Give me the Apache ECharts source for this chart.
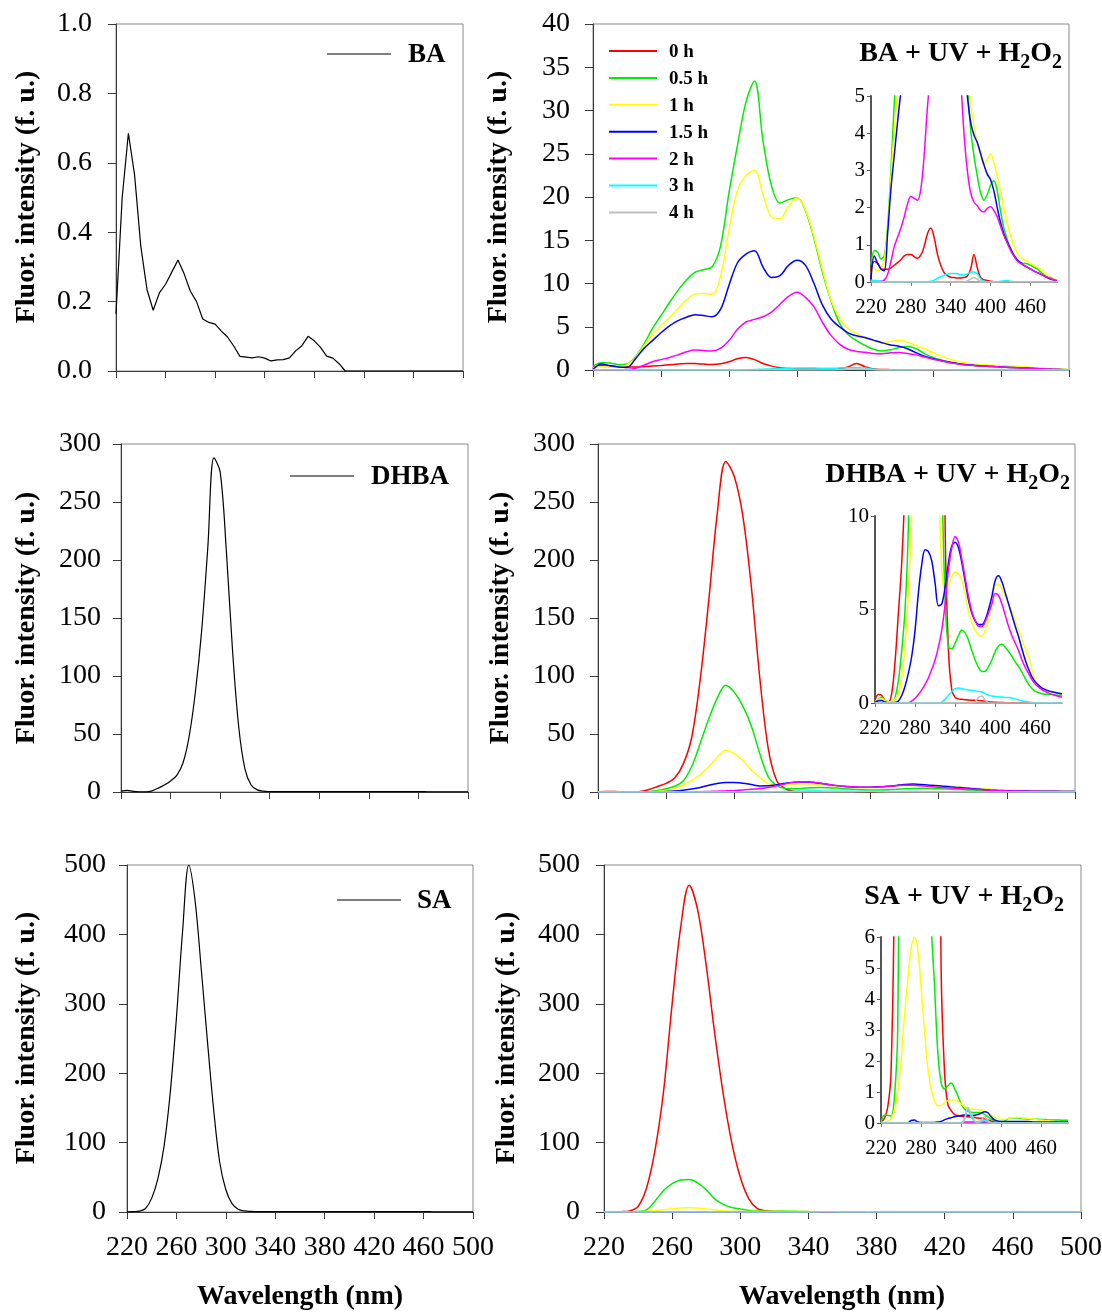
<!DOCTYPE html>
<html>
<head>
<meta charset="utf-8">
<script src="https://cdn.jsdelivr.net/npm/echarts@6/dist/echarts.min.js"></script>
<style>
  html, body { margin: 0; padding: 0; background: #ffffff; }
  #chart { width: 1102px; height: 1313px; }
</style>
</head>
<body>
<div id="chart"></div>
<script>
// Emission wavelength grid (nm)
const WAVELENGTH = [
  220, 225, 230, 235, 240, 245, 250, 255, 260, 265,
  270, 275, 280, 285, 290, 295, 300, 305, 310, 315,
  320, 325, 330, 335, 340, 345, 350, 355, 360, 365,
  370, 375, 380, 385, 390, 395, 400, 405, 410, 415,
  420, 425, 430, 435, 440, 445, 450, 455, 460, 465,
  470, 475, 480, 485, 490, 495, 500
];

const TIME_LABELS = ['0 h', '0.5 h', '1 h', '1.5 h', '2 h', '3 h', '4 h'];

// ---- Benzoic acid (BA) ----
const BA_REF = [
  0.165, 0.50, 0.685, 0.565, 0.36, 0.235, 0.175, 0.225, 0.25, 0.285,
  0.32, 0.28, 0.23, 0.20, 0.15, 0.14, 0.135, 0.115, 0.098, 0.072,
  0.042, 0.040, 0.038, 0.041, 0.037, 0.029, 0.032, 0.033, 0.038, 0.058,
  0.073, 0.10, 0.087, 0.068, 0.043, 0.037, 0.021, 0, 0, 0,
  0, 0, 0, 0, 0, 0, 0, 0, 0, 0,
  0, 0, 0, 0, 0, 0, 0
];
const BA_0H = [
  0.28, 0.55, 0.5, 0.37, 0.34, 0.34, 0.38, 0.45, 0.52, 0.6,
  0.7, 0.74, 0.74, 0.68, 0.64, 0.72, 0.95, 1.3, 1.45, 1.2,
  0.75, 0.45, 0.25, 0.17, 0.13, 0.12, 0.11, 0.11, 0.12, 0.16,
  0.35, 0.74, 0.38, 0.12, 0.06, 0.04, 0.02, 0.01, 0, 0,
  0, 0, 0, 0, 0, 0, 0, 0, 0, 0,
  0, 0, 0, 0, 0, 0, 0
];
const BA_05H = [
  0.46, 0.85, 0.8, 0.62, 0.7, 1.5, 3.0, 4.8, 6.3, 7.8,
  9.2, 10.4, 11.3, 11.6, 11.9, 14.3, 20.5, 26.0, 31.0, 33.4,
  26.5, 21.3, 19.3, 19.7, 19.9, 18.4, 15.2, 11.3, 8.0, 5.4,
  4.1, 3.4, 2.85, 2.4, 2.2, 2.35, 2.6, 2.72, 2.45, 1.9,
  1.45, 1.15, 0.9, 0.72, 0.6, 0.53, 0.5, 0.49, 0.45, 0.4,
  0.35, 0.28, 0.22, 0.16, 0.12, 0.08, 0.04
];
const BA_1H = [
  0.25, 0.38, 0.3, 0.35, 0.6, 1.4, 2.8, 4.1, 5.1, 6.1,
  7.1, 8.1, 8.8, 8.85, 8.75, 10.8, 16.2, 20.8, 22.5, 23.1,
  20.3, 17.7, 17.5, 18.9, 19.9, 18.5, 15.4, 11.6, 8.1, 6.0,
  4.8, 4.2, 3.75, 3.4, 3.15, 3.3, 3.45, 3.2, 2.85, 2.45,
  2.0, 1.6, 1.25, 0.98, 0.78, 0.66, 0.6, 0.57, 0.5, 0.45,
  0.4, 0.34, 0.25, 0.18, 0.12, 0.08, 0.05
];
const BA_15H = [
  0.08, 0.7, 0.5, 0.35, 0.3, 1.3, 2.5, 3.4, 4.3, 5.1,
  5.7, 6.1, 6.4, 6.3, 6.15, 7.0, 9.8, 12.4, 13.4, 13.8,
  11.9, 10.7, 10.9, 12.1, 12.7, 12.1, 10.0, 7.5, 5.9, 5.0,
  4.3, 3.95, 3.75, 3.45, 3.15, 2.9, 2.75, 2.45, 2.0, 1.6,
  1.3, 1.08, 0.9, 0.72, 0.6, 0.52, 0.45, 0.4, 0.35, 0.3,
  0.26, 0.22, 0.17, 0.12, 0.08, 0.05, 0.03
];
const BA_2H = [
  0.05, 0.03, 0.02, 0.02, 0.05, 0.2, 0.55, 0.95, 1.2, 1.45,
  1.75, 2.1, 2.3, 2.25, 2.2, 2.5, 3.4, 4.7, 5.55, 5.85,
  6.15, 6.7, 7.6, 8.5, 9.0, 8.4, 7.3, 5.5, 4.0, 3.0,
  2.4, 2.15, 2.05, 1.92, 1.88, 1.98, 2.02, 1.92, 1.75, 1.5,
  1.25, 1.05, 0.85, 0.7, 0.57, 0.5, 0.45, 0.4, 0.35, 0.3,
  0.25, 0.21, 0.17, 0.13, 0.1, 0.06, 0.04
];
const BA_3H = [
  0.04, 0.04, 0.03, 0.02, 0.01, 0.01, 0.01, 0.01, 0.01, 0.01,
  0.01, 0.01, 0.01, 0.01, 0.01, 0.01, 0.01, 0.01, 0.02, 0.05,
  0.1, 0.14, 0.18, 0.21, 0.23, 0.23, 0.22, 0.2, 0.19, 0.22,
  0.26, 0.27, 0.22, 0.08, 0.02, 0.01, 0.01, 0.01, 0.01, 0.02,
  0.03, 0.04, 0.02, 0.01, 0.01, 0.01, 0.01, 0.01, 0.01, 0.01,
  0.01, 0.01, 0.01, 0.01, 0.01, 0.01, 0.01
];
const BA_4H = [
  0, 0, 0, 0, 0, 0, 0, 0, 0, 0,
  0, 0, 0, 0, 0, 0, 0, 0, 0, 0,
  0, 0, 0, 0, 0, 0, 0, 0, 0, 0.03,
  0.08, 0.12, 0.08, 0.02, 0, 0, 0, 0, 0, 0,
  0, 0, 0, 0, 0, 0, 0, 0, 0, 0,
  0, 0, 0, 0, 0, 0, 0
];

// ---- 2,5-dihydroxybenzoic acid (DHBA) ----
const DHBA_REF = [
  0.8, 1.4, 0.6, 0.2, 0.1, 1.0, 3.3, 6.0, 9.5, 14.4,
  25, 48, 86, 138, 210, 288, 276, 208, 122, 56,
  20, 6, 1.8, 0.7, 0.4, 0.3, 0.3, 0.3, 0.3, 0.3,
  0.3, 0.3, 0.3, 0.3, 0.3, 0.3, 0.3, 0.3, 0.3, 0.3,
  0.25, 0.25, 0.25, 0.25, 0.25, 0.25, 0.25, 0.25, 0.25, 0.25,
  0.2, 0.2, 0.2, 0.2, 0.2, 0.2, 0.2
];
const DHBA_0H = [
  0.15, 0.45, 0.4, 0.12, 0.05, 0.5, 2.2, 4.8, 7.5, 12,
  24, 47, 97, 165, 240, 285, 272, 238, 177, 98,
  37, 9.5, 2.8, 0.7, 0.3, 0.22, 0.2, 0.18, 0.16, 0.15,
  0.14, 0.13, 0.12, 0.1, 0.07, 0.05, 0.04, 0.03, 0.03, 0.02,
  0.02, 0.02, 0.02, 0.02, 0.02, 0.02, 0.02, 0.02, 0.02, 0.02,
  0.02, 0.02, 0.02, 0.02, 0.02, 0.02, 0.02
];
const DHBA_05H = [
  0.05, 0.2, 0.32, 0.15, 0.05, 0.05, 0.3, 1.2, 2.8, 5.0,
  9.5, 22, 42, 63, 81, 92, 86, 74, 57, 33,
  13, 5.5, 3.0, 2.9, 3.2, 3.6, 3.9, 3.75, 3.36, 2.8,
  2.3, 1.9, 1.68, 1.7, 1.95, 2.3, 2.75, 3.05, 3.14, 2.98,
  2.75, 2.5, 2.2, 1.95, 1.65, 1.3, 1.0, 0.78, 0.62, 0.55,
  0.5, 0.47, 0.46, 0.45, 0.44, 0.42, 0.41
];
const DHBA_1H = [
  0.1, 0.18, 0.23, 0.12, 0.05, 0.08, 0.2, 0.5, 1.3, 3.0,
  5.8, 10, 15, 22, 30, 36, 33, 27, 19, 12.5,
  7.2, 6.0, 6.3, 6.75, 7.0, 6.9, 6.6, 5.8, 4.9, 4.3,
  3.9, 3.65, 3.57, 3.9, 4.45, 5.4, 6.3, 6.35, 6.1, 5.7,
  5.3, 4.9, 4.4, 3.9, 3.4, 2.9, 2.46, 1.8, 1.2, 0.95,
  0.8, 0.7, 0.65, 0.6, 0.56, 0.53, 0.5
];
const DHBA_15H = [
  0.05, 0.12, 0.14, 0.05, 0.02, 0.02, 0.03, 0.1, 0.4, 0.9,
  1.6, 2.5, 3.9, 5.9, 7.4, 8.2, 8.1, 7.6, 6.4, 5.2,
  5.3, 6.2, 7.5, 8.4, 8.6, 8.3, 7.5, 6.5, 5.5, 4.8,
  4.4, 4.2, 4.2, 4.45, 5.0, 5.7, 6.55, 6.8, 6.48, 5.9,
  5.3, 4.7, 4.1, 3.54, 2.9, 2.3, 1.8, 1.4, 1.13, 0.95,
  0.8, 0.72, 0.65, 0.6, 0.56, 0.52, 0.5
];
const DHBA_2H = [
  0.01, 0.01, 0.01, 0.01, 0.01, 0.01, 0.01, 0.01, 0.01, 0.01,
  0.02, 0.1, 0.25, 0.45, 0.7, 1.0, 1.35, 1.8, 2.3, 3.0,
  3.9, 5.3, 7.1, 8.3, 8.9, 8.6, 7.7, 6.7, 5.7, 4.9,
  4.4, 4.1, 4.1, 4.35, 4.8, 5.3, 5.85, 5.75, 5.3, 4.7,
  4.1, 3.6, 3.2, 2.8, 2.3, 1.9, 1.57, 1.25, 1.0, 0.85,
  0.72, 0.62, 0.53, 0.46, 0.4, 0.35, 0.32
];
const DHBA_3H = [
  0, 0, 0, 0, 0, 0, 0, 0, 0, 0,
  0, 0, 0, 0, 0, 0, 0, 0, 0, 0,
  0.05, 0.2, 0.41, 0.6, 0.75, 0.8, 0.77, 0.72, 0.7, 0.68,
  0.65, 0.62, 0.59, 0.5, 0.42, 0.37, 0.35, 0.33, 0.32, 0.3,
  0.29, 0.26, 0.22, 0.17, 0.12, 0.08, 0.05, 0.03, 0.02, 0.01,
  0.01, 0.01, 0.01, 0.01, 0.01, 0.01, 0.01
];
const DHBA_4H = [
  0, 0, 0, 0, 0, 0, 0, 0, 0, 0,
  0, 0, 0, 0, 0, 0, 0, 0, 0, 0,
  0, 0, 0, 0, 0, 0, 0, 0, 0, 0,
  0.05, 0.3, 0.38, 0.15, 0.02, 0, 0, 0, 0, 0,
  0, 0, 0, 0, 0, 0, 0, 0, 0, 0,
  0, 0, 0, 0, 0, 0, 0
];

// ---- Salicylic acid (SA) ----
const SA_REF = [
  0.3, 0.5, 1.2, 5, 20, 48, 95, 172, 280, 405,
  500, 450, 352, 248, 150, 72, 32, 12, 4, 1.5,
  0.8, 0.6, 0.5, 0.5, 0.5, 0.5, 0.5, 0.5, 0.5, 0.5,
  0.4, 0.4, 0.4, 0.4, 0.4, 0.4, 0.4, 0.4, 0.4, 0.4,
  0.4, 0.4, 0.4, 0.4, 0.4, 0.4, 0.4, 0.4, 0.4, 0.4,
  0.3, 0.3, 0.3, 0.3, 0.3, 0.3, 0.3
];
const SA_0H = [
  0.02, 0.15, 0.5, 1.6, 8, 35, 90, 175, 300, 410,
  471, 435, 355, 257, 170, 100, 50, 19, 5, 1.7,
  0.6, 0.4, 0.28, 0.24, 0.22, 0.2, 0.2, 0.19, 0.18, 0.16,
  0.15, 0.13, 0.1, 0.06, 0.03, 0, 0, 0, 0, 0,
  0, 0, 0, 0, 0, 0, 0, 0, 0, 0,
  0, 0, 0, 0, 0, 0, 0
];
const SA_05H = [
  0, 0.25, 0.25, 0.22, 0.8, 3.0, 16, 31, 41, 46,
  47, 42, 32, 19, 11, 6.5, 4.5, 2.3, 1.3, 1.1,
  1.2, 1.29, 1.12, 0.88, 0.62, 0.45, 0.38, 0.35, 0.34, 0.34,
  0.32, 0.28, 0.2, 0.12, 0.08, 0.06, 0.05, 0.06, 0.14, 0.17,
  0.17, 0.16, 0.15, 0.14, 0.13, 0.13, 0.12, 0.12, 0.11, 0.11,
  0.1, 0.1, 0.1, 0.1, 0.09, 0.09, 0.09
];
const SA_1H = [
  0.02, 0.03, 0.05, 0.15, 0.4, 1.0, 2.0, 3.4, 4.6, 5.6,
  6.0, 5.6, 4.4, 3.0, 1.8, 1.1, 0.72, 0.56, 0.56, 0.65,
  0.72, 0.75, 0.74, 0.7, 0.62, 0.54, 0.48, 0.45, 0.44, 0.43,
  0.42, 0.38, 0.32, 0.25, 0.2, 0.15, 0.12, 0.11, 0.15, 0.18,
  0.18, 0.18, 0.17, 0.16, 0.15, 0.14, 0.12, 0.1, 0.09, 0.08,
  0.07, 0.06, 0.05, 0.03, 0.03, 0.02, 0.02
];
const SA_15H = [
  0.01, 0.01, 0.01, 0.01, 0.01, 0.01, 0.01, 0.01, 0.01, 0.08,
  0.1, 0.03, 0.02, 0.02, 0.02, 0.02, 0.02, 0.03, 0.05, 0.1,
  0.14, 0.17, 0.2, 0.22, 0.24, 0.26, 0.25, 0.24, 0.25, 0.27,
  0.32, 0.36, 0.33, 0.2, 0.1, 0.06, 0.05, 0.05, 0.05, 0.05,
  0.05, 0.05, 0.05, 0.05, 0.05, 0.04, 0.03, 0.03, 0.03, 0.03,
  0.03, 0.03, 0.03, 0.03, 0.03, 0.03, 0.03
];
const SA_2H = [
  0.01, 0.01, 0.01, 0.01, 0.01, 0.01, 0.01, 0.01, 0.01, 0.01,
  0.01, 0.01, 0.01, 0.01, 0.01, 0.01, 0.01, 0.01, 0.01, 0.01,
  0.01, 0.01, 0.01, 0.01, 0.01, 0.03, 0.03, 0.03, 0.03, 0.03,
  0.03, 0.03, 0.03, 0.01, 0.01, 0.01, 0.01, 0.01, 0.01, 0.01,
  0.01, 0.01, 0.01, 0.01, 0.01, 0.01, 0.01, 0.01, 0.01, 0.01,
  0.01, 0.01, 0.01, 0.01, 0.01, 0.01, 0.01
];
const SA_3H = [
  0, 0, 0, 0, 0, 0, 0, 0, 0, 0,
  0, 0, 0, 0, 0, 0, 0, 0, 0, 0,
  0, 0, 0, 0, 0, 0.15, 0.45, 0.2, 0.05, 0.02,
  0.05, 0.1, 0.04, 0, 0, 0, 0, 0, 0, 0,
  0, 0, 0, 0, 0, 0, 0, 0, 0, 0,
  0, 0, 0, 0, 0, 0, 0
];
const SA_4H = [
  0, 0, 0, 0, 0, 0, 0, 0, 0, 0,
  0, 0, 0, 0, 0, 0, 0, 0, 0, 0,
  0, 0, 0, 0, 0, 0.1, 0.5, 0.3, 0.08, 0.02,
  0.1, 0.2, 0.08, 0, 0, 0, 0, 0, 0, 0,
  0, 0, 0, 0, 0, 0, 0, 0, 0, 0,
  0, 0, 0, 0, 0, 0, 0
];

const BA_TREATED = [BA_0H, BA_05H, BA_1H, BA_15H, BA_2H, BA_3H, BA_4H];
const DHBA_TREATED = [DHBA_0H, DHBA_05H, DHBA_1H, DHBA_15H, DHBA_2H, DHBA_3H, DHBA_4H];
const SA_TREATED = [SA_0H, SA_05H, SA_1H, SA_15H, SA_2H, SA_3H, SA_4H];

// ---- styling & layout ----
const FONT = '"Liberation Serif", "Times New Roman", serif';
const TIME_COLORS = ['#ff0000', '#00ee00', '#ffff00', '#0000ff', '#ff00ff', '#00ffff', '#c0c0c0'];
const AXIS_DARK = '#3a3a3a';
const FRAME = '#8a8a8a';

// plot rectangles: [left, top, width, height]
const RECTS = [
  [116, 24, 347, 347],   // BA
  [593, 24, 476, 346],   // BA + UV + H2O2
  [871, 96, 186, 186],   // BA inset
  [121, 444, 347, 348],  // DHBA
  [598, 444, 477, 348],  // DHBA + UV + H2O2
  [875, 516, 187, 187],  // DHBA inset
  [127, 865, 346, 347],  // SA
  [604, 865, 477, 347],  // SA + UV + H2O2
  [881, 937, 187, 186]   // SA inset
];

function pairs(values) {
  return WAVELENGTH.map((w, i) => [w, values[i]]);
}

function mainX(idx, showLabels) {
  return {
    type: 'value', gridIndex: idx, min: 220, max: 500, interval: 40,
    axisLine: { show: true, onZero: false, lineStyle: { color: AXIS_DARK, width: 1 } },
    axisTick: { show: true, inside: false, length: 7, lineStyle: { color: AXIS_DARK } },
    axisLabel: { show: showLabels, fontFamily: FONT, fontSize: 28, color: '#000', margin: 22 },
    splitLine: { show: false }
  };
}
function mainY(idx, max, interval, digits, margin) {
  return {
    type: 'value', gridIndex: idx, min: 0, max: max, interval: interval,
    axisLine: { show: true, onZero: false, lineStyle: { color: AXIS_DARK, width: 1 } },
    axisTick: { show: true, inside: false, length: 8, lineStyle: { color: AXIS_DARK } },
    axisLabel: {
      fontFamily: FONT, fontSize: 28, color: '#000', margin: margin,
      formatter: v => v.toFixed(digits)
    },
    splitLine: { show: false }
  };
}
function insetX(idx) {
  return {
    type: 'value', gridIndex: idx, min: 220, max: 500, interval: 60,
    axisLine: { show: true, onZero: false, lineStyle: { color: '#a8a8a8', width: 2 } },
    axisTick: { show: true, inside: false, length: 4, lineStyle: { color: '#777' } },
    axisLabel: { fontFamily: FONT, fontSize: 21, color: '#000', margin: 15, showMaxLabel: false },
    splitLine: { show: false }
  };
}
function insetY(idx, max, interval) {
  return {
    type: 'value', gridIndex: idx, min: 0, max: max, interval: interval,
    axisLine: { show: true, onZero: false, lineStyle: { color: '#555', width: 2 } },
    axisTick: { show: true, inside: false, length: 4, lineStyle: { color: '#555' } },
    axisLabel: { fontFamily: FONT, fontSize: 21, color: '#000', margin: 6 },
    splitLine: { show: false }
  };
}

function curve(name, idx, values, color, width, smooth) {
  return {
    type: 'line', name: name, xAxisIndex: idx, yAxisIndex: idx,
    data: pairs(values), symbol: 'none', showSymbol: false,
    smooth: smooth, clip: true, silent: true, animation: false,
    lineStyle: { color: color, width: width }, itemStyle: { color: color }
  };
}

const grids = RECTS.map(r => ({
  left: r[0], top: r[1], width: r[2], height: r[3],
  show: false, containLabel: false, outerBoundsMode: 'none'
}));
// main panels carry a thin grey frame
[0, 1, 3, 4, 6, 7].forEach(i => {
  grids[i].show = true;
  grids[i].borderColor = FRAME;
  grids[i].borderWidth = 1;
  grids[i].backgroundColor = 'transparent';
});

const xAxes = [
  mainX(0, false), mainX(1, false), insetX(2),
  mainX(3, false), mainX(4, false), insetX(5),
  mainX(6, true), mainX(7, true), insetX(8)
];
const yAxes = [
  mainY(0, 1, 0.2, 1, 24), mainY(1, 40, 5, 0, 23), insetY(2, 5, 1),
  mainY(3, 300, 50, 0, 20), mainY(4, 300, 50, 0, 23), insetY(5, 10, 5),
  mainY(6, 500, 100, 0, 21), mainY(7, 500, 100, 0, 24), insetY(8, 6, 1)
];

const series = [];
series.push(curve('BA', 0, BA_REF, '#000', 1.2, false));
series.push(curve('DHBA', 3, DHBA_REF, '#000', 1.2, 0.35));
series.push(curve('SA', 6, SA_REF, '#000', 1.2, 0.35));
[[BA_TREATED, 1, 2], [DHBA_TREATED, 4, 5], [SA_TREATED, 7, 8]].forEach(([set, mainIdx, insetIdx]) => {
  set.forEach((values, k) => {
    series.push(curve(TIME_LABELS[k], mainIdx, values, TIME_COLORS[k], 1.5, 0.35));
    series.push(curve(TIME_LABELS[k], insetIdx, values, TIME_COLORS[k], 1.5, 0.35));
  });
});

// ---- text & legend graphics ----
const graphics = [];
function text(x, y, str, size, weight, align) {
  graphics.push({
    type: 'text', x: x, y: y, silent: true,
    style: { text: str, fontFamily: FONT, fontSize: size, fontWeight: weight, fill: '#000',
             align: align || 'left', verticalAlign: 'middle' }
  });
}
// y-axis titles
const Y_TITLE = 'Fluor. intensity (f. u.)';
[[27, 197], [499, 197], [27, 618], [501, 618], [27, 1038], [507, 1038]].forEach(([x, y]) => {
  graphics.push({
    type: 'text', x: x, y: y, rotation: Math.PI / 2, silent: true,
    style: { text: Y_TITLE, fontFamily: FONT, fontSize: 28, fontWeight: 'bold', fill: '#000',
             align: 'center', verticalAlign: 'middle' }
  });
});
// x-axis titles
[[300, 1297], [842, 1297]].forEach(([x, y]) => text(x, y, 'Wavelength (nm)', 28, 'bold', 'center'));

// single-compound legends
[['BA', 327, 391, 54, 408], ['DHBA', 290, 354, 476, 371], ['SA', 337, 401, 900, 417]].forEach(([name, x1, x2, y, tx]) => {
  graphics.push({ type: 'line', silent: true, shape: { x1: x1, y1: y, x2: x2, y2: y },
                  style: { stroke: '#000', lineWidth: 1.2 } });
  text(tx, y + 1, name, 27, 'bold');
});
// time legend in the BA + UV + H2O2 panel
TIME_LABELS.forEach((label, k) => {
  const y = 51 + 26.9 * k;
  graphics.push({ type: 'line', silent: true, shape: { x1: 609, y1: y, x2: 657, y2: y },
                  style: { stroke: TIME_COLORS[k], lineWidth: 2 } });
  text(669, y + 1, label, 19, 'bold');
});

// treatment titles "X + UV + H2O2", right-aligned, with lowered subscripts
const measureCtx = document.createElement('canvas').getContext('2d');
function textWidth(str, size) {
  measureCtx.font = 'bold ' + size + 'px ' + FONT;
  return measureCtx.measureText(str).width;
}
const MAIN_SIZE = 28, SUB_SIZE = 20;
[['BA', 1062, 62], ['DHBA', 1070, 483], ['SA', 1064, 905]].forEach(([name, right, baseline]) => {
  const w2 = textWidth('2', SUB_SIZE);
  const wO = textWidth('O', MAIN_SIZE);
  const mainY = baseline - 0.305 * MAIN_SIZE;
  const subY = baseline + 7 - 0.305 * SUB_SIZE;
  const xSub2 = right - w2;
  const xO = xSub2 - wO;
  const xSub1 = xO - w2;
  text(xSub1, mainY, name + ' + UV + H', MAIN_SIZE, 'bold', 'right');
  text(xSub1, subY, '2', SUB_SIZE, 'bold');
  text(xO, mainY, 'O', MAIN_SIZE, 'bold');
  text(xSub2, subY, '2', SUB_SIZE, 'bold');
});

const chart = echarts.init(document.getElementById('chart'), null, { renderer: 'canvas' });
chart.setOption({
  backgroundColor: '#ffffff',
  animation: false,
  textStyle: { fontFamily: FONT },
  grid: grids,
  xAxis: xAxes,
  yAxis: yAxes,
  series: series,
  graphic: graphics
});
</script>
</body>
</html>
